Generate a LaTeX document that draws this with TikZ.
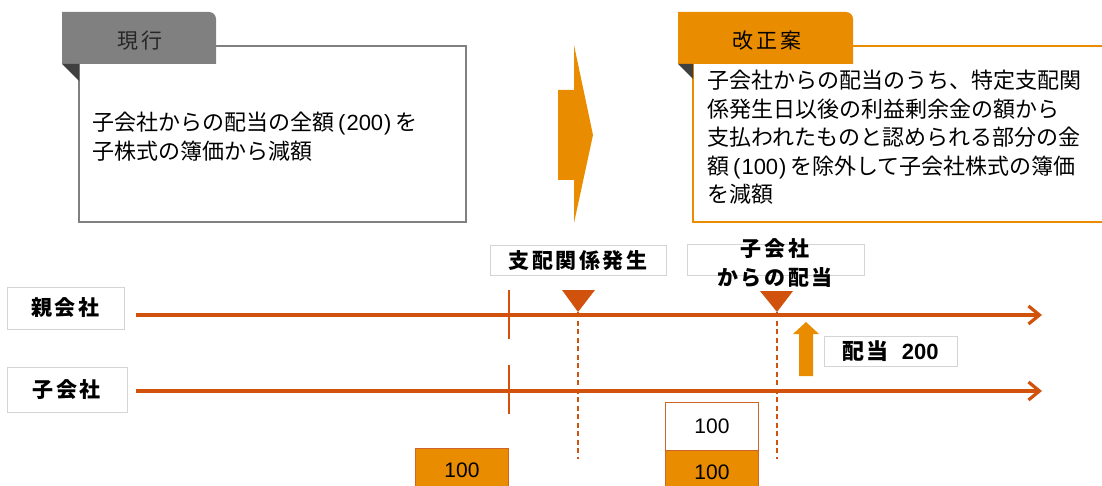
\documentclass[tikz,border=0pt]{standalone}
\usepackage{fontspec}
\setmainfont{Liberation Sans}
\newfontfamily\jp{Noto Sans CJK JP}
\newfontfamily\jpb[LetterSpace=12]{Noto Sans CJK JP}
\newfontfamily\lat{Liberation Sans}
\usetikzlibrary{arrows.meta}
\definecolor{lineor}{RGB}{208,82,12}
\definecolor{fillor}{RGB}{234,140,0}
\definecolor{tabgray}{RGB}{128,128,128}
\definecolor{folddark}{RGB}{64,64,64}
\definecolor{lblgray}{RGB}{212,212,212}
\definecolor{boxor}{RGB}{205,100,40}
\newcommand{\paren}[1]{\hspace{4pt}{\lat(\hspace{1pt}#1\hspace{1pt})}\hspace{4pt}}
\begin{document}
\begin{tikzpicture}[x=1pt,y=-1pt,
  bodytext/.style={anchor=base west,inner sep=0,font=\jp\fontsize{22}{28}\selectfont},
  tabtext/.style={inner sep=0,font=\jpb\fontsize{21}{24}\selectfont},
  lbl/.style={draw=lblgray,line width=0.8pt,fill=white,inner sep=0,font=\jpb\bfseries\fontsize{21}{24}\selectfont},
  lbltext/.style={inner sep=0,align=center,font=\jpb\bfseries\fontsize{21}{29}\selectfont},
  tl/.style={draw=lineor,line width=3.2pt,-{Straight Barb[length=11pt,width=18pt]}},
  tickline/.style={draw=lineor,line width=2.4pt},
  drop/.style={draw=lineor,line width=2pt,dash pattern=on 5pt off 3.5pt},
  marker/.style={fill=lineor},
  numbox/.style={draw=boxor,line width=1pt,inner sep=0,minimum width=93pt,font=\fontsize{21}{24}\selectfont}
]
\useasboundingbox (0,0) rectangle (1102,486);

% ---- left (current) box
\draw[tabgray,line width=1.5pt,fill=white] (79,46) rectangle (466,222);
\fill[tabgray] (62,64) -- (62,12) -- (209,12) arc[start angle=-90,end angle=0,radius=7] -- (216,64) -- cycle;
\fill[folddark] (62,64) -- (79,64) -- (79,81) -- cycle;
\node[tabtext,text=black!85] (curtab) at (140,41) {現行};
\node[bodytext] (ltxt1) at (92,131) {子会社からの配当の全額\paren{200}を};
\node[bodytext] (ltxt2) at (92,160) {子株式の簿価から減額};

% ---- big arrow
\fill[fillor] (558,90) -- (574,90) -- (574,45) -- (593,135) -- (574,223) -- (574,180) -- (558,180) -- cycle;

% ---- right (proposal) box
\draw[fillor,line width=2pt,fill=white] (693,46) rectangle (1110,222);
\fill[fillor] (678,64) -- (678,12) -- (846,12) arc[start angle=-90,end angle=0,radius=7] -- (853,64) -- cycle;
\fill[folddark] (678,64) -- (693,64) -- (693,79) -- cycle;
\node[tabtext,text=black] (newtab) at (767,41) {改正案};
\node[bodytext] (rtxt1) at (707,89) {子会社からの配当のうち、特定支配関};
\node[bodytext] (rtxt2) at (707,117.5) {係発生日以後の利益剰余金の額から};
\node[bodytext] (rtxt3) at (707,146) {支払われたものと認められる部分の金};
\node[bodytext] (rtxt4) at (707,174.5) {額\paren{100}を除外して子会社株式の簿価};
\node[bodytext] (rtxt5) at (707,203) {を減額};

% ---- timeline labels
\node[lbl,minimum width=117pt,minimum height=42pt] (parent) at (65.5,308) {親会社};
\node[lbl,minimum width=120pt,minimum height=45pt] (child) at (67,389.5) {子会社};
\node[lbl,minimum width=176pt,minimum height=30pt] (ctrl) at (578,260.5) {支配関係発生};
\node[lbl,minimum width=177pt,minimum height=31pt] (divbox) at (775.5,259.5) {};
\node[lbltext] (divtxt) at (775,263) {子会社\\からの配当};

% ---- timelines
\coordinate (ps) at (136,315);
\coordinate (pe) at (1042,315);
\coordinate (cs) at (136,391);
\coordinate (ce) at (1042,391);
\draw[tl] (ps) -- (pe);
\draw[tl] (cs) -- (ce);

% ticks
\coordinate (t1a) at (509,290); \coordinate (t1b) at (509,339);
\coordinate (t2a) at (509,365); \coordinate (t2b) at (509,414);
\draw[tickline] (t1a) -- (t1b);
\draw[tickline] (t2a) -- (t2b);

% dashed drops and markers
\coordinate (m1) at (578,312); \coordinate (m1e) at (578,459);
\coordinate (m2) at (777,312); \coordinate (m2e) at (777,459);
\draw[drop] (m1) -- (m1e);
\draw[drop] (m2) -- (m2e);
\fill[marker] (562,290) -- (595,290) -- (m1) -- cycle;
\fill[marker] (760,291) -- (793,291) -- (m2) -- cycle;

% dividend arrow
\fill[fillor] (799,376) -- (799,334) -- (793,334) -- (806,322) -- (819,334) -- (813,334) -- (813,376) -- cycle;
\node[lbl,minimum width=133pt,minimum height=30pt,font=\jpb\bfseries\fontsize{22}{24}\selectfont] (div) at (890.5,351) {配当\hspace{13pt}{\lat\bfseries 200}};

% ---- amount boxes
\node[numbox,fill=fillor,minimum height=44pt,anchor=north west] (b1) at (415,448) {100};
\node[numbox,fill=white,minimum height=48pt,anchor=north west] (b2) at (665,402) {100};
\node[numbox,fill=fillor,minimum height=44pt,anchor=north west] (b3) at (665,450) {100};
\end{tikzpicture}
\end{document}
